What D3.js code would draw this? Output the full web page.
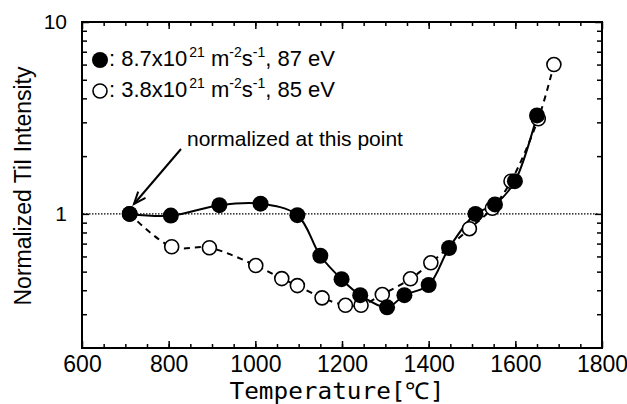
<!DOCTYPE html>
<html>
<head>
<meta charset="utf-8">
<script src="https://cdn.jsdelivr.net/npm/d3@7"></script>
<style>
  body { margin: 0; background: #fff; }
  svg { display: block; }
</style>
</head>
<body>
<svg id="chart" width="627" height="404"></svg>
<script>

// filled circles: 8.7e21 m-2 s-1, 87 eV
var tempHigh = [710, 805, 917, 1012, 1097, 1150, 1199, 1242, 1304, 1344, 1400, 1447, 1508, 1553, 1599, 1650]
var valHigh = [1.0, 0.98, 1.11, 1.13, 0.985, 0.605, 0.457, 0.377, 0.326, 0.377, 0.426, 0.664, 1.0, 1.12, 1.48, 3.26]

// open circles: 3.8e21 m-2 s-1, 85 eV
var tempLow = [710, 807, 894, 1001, 1061, 1097, 1154, 1208, 1244, 1293, 1358, 1405, 1494, 1547, 1590, 1653, 1689]
var valLow = [1.0, 0.674, 0.666, 0.538, 0.46, 0.423, 0.365, 0.334, 0.334, 0.38, 0.459, 0.556, 0.837, 1.07, 1.48, 3.13, 6.0]

var xMajor = [600, 800, 1000, 1200, 1400, 1600, 1800]
var xMinor = d3.range(650, 1800, 50)
var yMajor = [1, 10]
var yMinor = [0.3, 0.4, 0.5, 0.6, 0.7, 0.8, 0.9, 2, 3, 4, 5, 6, 7, 8, 9]

var legendLabels = [
    { filled: true, main: ': 8.7x10', sup1: '21', mid: ' m', sup2: '-2', s: 's', sup3: '-1', tail: ', 87 eV' },
    { filled: false, main: ': 3.8x10', sup1: '21', mid: ' m', sup2: '-2', s: 's', sup3: '-1', tail: ', 85 eV' }
]

// plot frame (avoid window.top clash)
var pLeft = 82, pRight = 602, pTop = 22, pBottom = 348

var svg = d3.select('#chart')

var x = d3.scaleLinear().domain([600, 1800]).range([pLeft, pRight])
var y = d3.scaleLog().domain([0.2, 10]).range([pBottom, pTop])

var sans = 'Liberation Sans, Arial, Helvetica, sans-serif'

function styleAxis(g) {
    g.select('.domain').remove()
    g.selectAll('line').attr('stroke', '#000').attr('stroke-width', 1.5)
    g.selectAll('text').attr('fill', '#000').attr('font-family', sans)
}

// x axes, ticks pointing inward
svg.append('g')
    .attr('transform', `translate(0,${pBottom})`)
    .call(d3.axisBottom(x).tickValues(xMinor).tickSize(-4).tickFormat(''))
    .call(styleAxis)

svg.append('g')
    .attr('transform', `translate(0,${pBottom})`)
    .call(d3.axisBottom(x).tickValues(xMajor).tickSize(-7).tickPadding(8).tickFormat(d3.format('d')))
    .call(styleAxis)
    .selectAll('text').attr('font-size', '23px')

svg.append('g')
    .attr('transform', `translate(0,${pTop})`)
    .call(d3.axisTop(x).tickValues(xMinor).tickSize(-4).tickFormat(''))
    .call(styleAxis)

svg.append('g')
    .attr('transform', `translate(0,${pTop})`)
    .call(d3.axisTop(x).tickValues(xMajor).tickSize(-7).tickFormat(''))
    .call(styleAxis)

// y axes
svg.append('g')
    .attr('transform', `translate(${pLeft},0)`)
    .call(d3.axisLeft(y).tickValues(yMinor).tickSize(-5).tickFormat(''))
    .call(styleAxis)

svg.append('g')
    .attr('transform', `translate(${pLeft},0)`)
    .call(d3.axisLeft(y).tickValues(yMajor).tickSize(-7).tickPadding(15).tickFormat(d3.format('d')))
    .call(styleAxis)
    .selectAll('text').attr('font-size', '21px')

svg.append('g')
    .attr('transform', `translate(${pRight},0)`)
    .call(d3.axisRight(y).tickValues(yMinor).tickSize(-5).tickFormat(''))
    .call(styleAxis)

svg.append('g')
    .attr('transform', `translate(${pRight},0)`)
    .call(d3.axisRight(y).tickValues(yMajor).tickSize(-7).tickFormat(''))
    .call(styleAxis)

// frame
svg.append('rect')
    .attr('x', pLeft)
    .attr('y', pTop)
    .attr('width', pRight - pLeft)
    .attr('height', pBottom - pTop)
    .attr('fill', 'none')
    .attr('stroke', '#000')
    .attr('stroke-width', 2)

// reference line at 1
svg.append('line')
    .attr('x1', pLeft + 1)
    .attr('x2', pRight - 4)
    .attr('y1', y(1))
    .attr('y2', y(1))
    .attr('stroke', '#000')
    .attr('stroke-width', 1.4)
    .attr('stroke-dasharray', '1.5,1.5')

var high = tempHigh.map((t, i) => ({ t: t, v: valHigh[i] }))
var low = tempLow.map((t, i) => ({ t: t, v: valLow[i] }))

var line = d3.line()
    .x(d => x(d.t))
    .y(d => y(d.v))
    .curve(d3.curveCatmullRom.alpha(0.5))

svg.append('path')
    .datum(low)
    .attr('d', line)
    .attr('fill', 'none')
    .attr('stroke', '#000')
    .attr('stroke-width', 2)
    .attr('stroke-dasharray', '6,5')

svg.append('path')
    .datum(high)
    .attr('d', line)
    .attr('fill', 'none')
    .attr('stroke', '#000')
    .attr('stroke-width', 2)

svg.append('g')
    .selectAll('circle')
    .data(low)
    .enter().append('circle')
    .attr('cx', d => x(d.t))
    .attr('cy', d => y(d.v))
    .attr('r', 7)
    .attr('fill', '#fff')
    .attr('stroke', '#000')
    .attr('stroke-width', 1.6)

svg.append('g')
    .selectAll('circle')
    .data(high)
    .enter().append('circle')
    .attr('cx', d => x(d.t))
    .attr('cy', d => y(d.v))
    .attr('r', 8)
    .attr('fill', '#000')

// legend
legendLabels.forEach(function (l, i) {

    var ly = 60 + i * 31

    svg.append('circle')
        .attr('cx', 100)
        .attr('cy', ly)
        .attr('r', l.filled ? 8 : 7)
        .attr('fill', l.filled ? '#000' : '#fff')
        .attr('stroke', '#000')
        .attr('stroke-width', l.filled ? 0 : 1.6)

    var t = svg.append('text')
        .attr('x', 109)
        .attr('y', ly + 6)
        .attr('font-family', sans)
        .attr('font-size', '22px')
        .attr('fill', '#000')

    t.append('tspan').text(l.main)
    t.append('tspan').text(l.sup1).attr('font-size', '14px').attr('dx', 2).attr('dy', -9)
    t.append('tspan').text(l.mid).attr('dy', 9)
    t.append('tspan').text(l.sup2).attr('font-size', '14px').attr('dy', -9)
    t.append('tspan').text(l.s).attr('dy', 9)
    t.append('tspan').text(l.sup3).attr('font-size', '14px').attr('dy', -9)
    t.append('tspan').text(l.tail).attr('dy', 9)
})

// annotation
svg.append('text')
    .attr('x', 187)
    .attr('y', 146)
    .attr('font-family', sans)
    .attr('font-size', '21px')
    .attr('fill', '#000')
    .text('normalized at this point')

var ax1 = 181, ay1 = 149, ax2 = 134, ay2 = 204
var ang = Math.atan2(ay2 - ay1, ax2 - ax1)
var head = 13, spread = 0.38

svg.append('line')
    .attr('x1', ax1).attr('y1', ay1)
    .attr('x2', ax2).attr('y2', ay2)
    .attr('stroke', '#000')
    .attr('stroke-width', 2)

svg.append('path')
    .attr('d', `M${ax2 - head * Math.cos(ang - spread)},${ay2 - head * Math.sin(ang - spread)}L${ax2},${ay2}L${ax2 - head * Math.cos(ang + spread)},${ay2 - head * Math.sin(ang + spread)}`)
    .attr('fill', 'none')
    .attr('stroke', '#000')
    .attr('stroke-width', 2)

// axis titles
svg.append('text')
    .attr('x', 337)
    .attr('y', 399)
    .attr('text-anchor', 'middle')
    .attr('font-family', 'DejaVu Sans Mono, monospace')
    .attr('font-size', '23px')
    .attr('textLength', 215)
    .attr('lengthAdjust', 'spacingAndGlyphs')
    .attr('fill', '#000')
    .text('Temperature[℃]')

svg.append('text')
    .attr('transform', 'translate(31,186) rotate(-90)')
    .attr('text-anchor', 'middle')
    .attr('font-family', sans)
    .attr('font-size', '23px')
    .attr('fill', '#000')
    .text('Normalized TiI Intensity')

</script>
</body>
</html>
